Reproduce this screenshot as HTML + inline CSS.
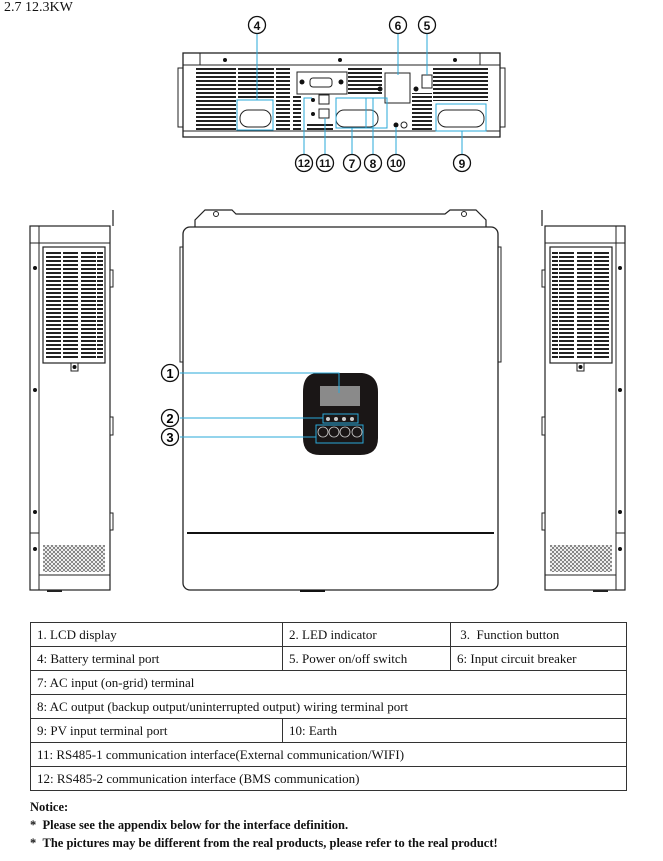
<!DOCTYPE html>
<html><head><meta charset="utf-8"><style>
html,body{margin:0;padding:0;background:#fff;}
body{width:663px;height:861px;position:relative;overflow:hidden;font-family:"Liberation Serif",serif;color:#111;}
svg{position:absolute;left:0;top:0;}
.t{position:absolute;font-size:13px;white-space:nowrap;}
table{position:absolute;left:30px;top:622px;width:597px;border-collapse:collapse;font-size:13px;}
td{border:1.3px solid #333;height:23px;padding:0 0 0 6px;}
.n{position:absolute;left:30px;font-size:12.5px;font-weight:bold;white-space:nowrap;}
</style></head><body>
<div class="t" style="left:4px;top:0px;font-size:14px;">2.7 12.3KW</div>
<svg width="663" height="620" viewBox="0 0 663 620" xmlns="http://www.w3.org/2000/svg">
<defs>
<pattern id="slat" width="10" height="4" patternUnits="userSpaceOnUse"><rect width="10" height="2" fill="#222"/></pattern>
<pattern id="hex" width="4" height="4" patternUnits="userSpaceOnUse"><circle cx="2" cy="2" r="1.4" fill="none" stroke="#333" stroke-width="0.6"/></pattern>
<g id="side">
<rect x="30" y="226" width="80" height="364" fill="#fff" stroke="#222" stroke-width="1.2"/>
<line x1="39" y1="226" x2="39" y2="590" stroke="#222"/>
<line x1="30" y1="243" x2="110" y2="243" stroke="#222"/>
<line x1="39" y1="575" x2="110" y2="575" stroke="#222"/>
<line x1="30" y1="533" x2="39" y2="533" stroke="#222"/>
<line x1="113" y1="210" x2="113" y2="226" stroke="#222" stroke-width="1.2"/>
<rect x="43" y="247" width="62" height="116" fill="#fff" stroke="#222" stroke-width="1.2"/>
<rect x="46" y="252" width="15" height="107" fill="url(#slat)"/>
<rect x="63" y="252" width="15" height="107" fill="url(#slat)"/>
<rect x="81" y="252" width="15" height="107" fill="url(#slat)"/>
<rect x="97" y="252" width="6" height="107" fill="url(#slat)"/>
<rect x="71" y="363" width="7" height="8" fill="#fff" stroke="#222"/>
<circle cx="74.5" cy="367" r="2" fill="#111"/>
<rect x="43" y="545" width="62" height="27" fill="url(#hex)"/>
<rect x="110" y="270" width="3" height="17" fill="#fff" stroke="#222"/>
<rect x="110" y="417" width="3" height="18" fill="#fff" stroke="#222"/>
<rect x="110" y="513" width="3" height="17" fill="#fff" stroke="#222"/>
<circle cx="35" cy="268" r="2" fill="#111"/><circle cx="35" cy="390" r="2" fill="#111"/>
<circle cx="35" cy="512" r="2" fill="#111"/><circle cx="35" cy="549" r="2" fill="#111"/>
<line x1="47" y1="591" x2="62" y2="591" stroke="#222" stroke-width="2"/>
</g>
</defs>
<!-- side views -->
<use href="#side"/>
<use href="#side" transform="translate(655,0) scale(-1,1)"/>

<!-- front view -->
<path d="M195 227 L195 220 L205 210 L232 210 L236 214 L445 214 L450 210 L476 210 L486 220 L486 227" fill="#fff" stroke="#222" stroke-width="1.2"/>
<circle cx="216" cy="214" r="2.5" fill="none" stroke="#222"/><circle cx="464" cy="214" r="2.5" fill="none" stroke="#222"/>
<rect x="180" y="247" width="3" height="115" fill="#fff" stroke="#222"/>
<rect x="498" y="247" width="3" height="115" fill="#fff" stroke="#222"/>
<rect x="183" y="227" width="315" height="363" rx="7" fill="#fff" stroke="#222" stroke-width="1.3"/>
<line x1="187" y1="533" x2="494" y2="533" stroke="#111" stroke-width="2"/>
<line x1="300" y1="591" x2="325" y2="591" stroke="#111" stroke-width="2"/>
<path d="M318 373 L362 373 Q378 375 378 392 L378 438 Q378 455 360 455 L320 455 Q303 455 303 438 L303 392 Q303 373 318 373 Z" fill="#1a1616"/>
<rect x="320" y="386" width="40" height="20" fill="#8a8a8a"/>
<g fill="#ccc"><circle cx="328" cy="419" r="2"/><circle cx="336" cy="419" r="2"/><circle cx="344" cy="419" r="2"/><circle cx="352" cy="419" r="2"/>
</g>
<g fill="none" stroke="#ccc" stroke-width="0.8"><circle cx="323" cy="432" r="5"/><circle cx="334" cy="432" r="5"/><circle cx="345" cy="432" r="5"/><circle cx="357" cy="432" r="5"/></g>
<g stroke="#2aa8d8" stroke-width="1" fill="none">
<polyline points="180,373 339,373 339,393"/>
<line x1="180" y1="418" x2="323" y2="418"/>
<line x1="180" y1="437" x2="316" y2="437"/>
<rect x="323" y="414" width="35" height="9"/>
<rect x="316" y="425" width="47" height="18"/>
</g>
<g font-family="Liberation Sans,sans-serif" font-size="13" font-weight="bold" text-anchor="middle">
<circle cx="170" cy="373" r="8.5" fill="#fff" stroke="#111" stroke-width="1.3"/><text x="170" y="378">1</text>
<circle cx="170" cy="418" r="8.5" fill="#fff" stroke="#111" stroke-width="1.3"/><text x="170" y="423">2</text>
<circle cx="170" cy="437" r="8.5" fill="#fff" stroke="#111" stroke-width="1.3"/><text x="170" y="442">3</text>
</g>

<!-- rear view -->
<rect x="178" y="68" width="5" height="59" fill="#fff" stroke="#222"/>
<rect x="500" y="68" width="5" height="59" fill="#fff" stroke="#222"/>
<rect x="183" y="53" width="317" height="84" fill="#fff" stroke="#222" stroke-width="1.3"/>
<line x1="183" y1="65" x2="500" y2="65" stroke="#222"/>
<line x1="200" y1="53" x2="200" y2="65" stroke="#222"/><line x1="480" y1="53" x2="480" y2="65" stroke="#222"/>
<line x1="183" y1="131" x2="500" y2="131" stroke="#222"/>
<circle cx="225" cy="60" r="2" fill="#111"/><circle cx="340" cy="60" r="2" fill="#111"/><circle cx="455" cy="60" r="2" fill="#111"/>
<rect x="196" y="68" width="40" height="63" fill="url(#slat)"/>
<rect x="238" y="68" width="36" height="30" fill="url(#slat)"/>
<rect x="276" y="68" width="14" height="63" fill="url(#slat)"/>
<rect x="293" y="96" width="8" height="34" fill="url(#slat)"/>
<rect x="348" y="68" width="34" height="26" fill="url(#slat)"/>
<rect x="433" y="68" width="55" height="33" fill="url(#slat)"/>
<rect x="412" y="93" width="20" height="38" fill="url(#slat)"/>
<rect x="307" y="123" width="26" height="8" fill="url(#slat)"/>
<rect x="297" y="72" width="50" height="22" fill="#fff" stroke="#222"/>
<rect x="310" y="78" width="22" height="9" rx="3" fill="#fff" stroke="#222"/>
<circle cx="302" cy="82" r="2.5" fill="#111"/><circle cx="341" cy="82" r="2.5" fill="#111"/>
<rect x="385" y="73" width="25" height="30" fill="#fff" stroke="#222"/>
<rect x="422" y="75" width="10" height="13" fill="#fff" stroke="#222"/>
<circle cx="380" cy="89" r="2.5" fill="#111"/><circle cx="416" cy="89" r="2.5" fill="#111"/>
<rect x="319" y="95" width="10" height="9" fill="#fff" stroke="#222"/>
<rect x="319" y="109" width="10" height="9" fill="#fff" stroke="#222"/>
<circle cx="313" cy="100" r="2" fill="#111"/><circle cx="313" cy="114" r="2" fill="#111"/>
<rect x="238" y="102" width="34" height="26" fill="#fff"/>
<rect x="240" y="110" width="31" height="17" rx="8" fill="#fff" stroke="#222"/>
<rect x="336" y="110" width="42" height="17" rx="8" fill="#fff" stroke="#222"/>
<rect x="438" y="110" width="46" height="17" rx="8" fill="#fff" stroke="#222"/>
<circle cx="396" cy="125" r="2.5" fill="#111"/><circle cx="404" cy="125" r="3" fill="none" stroke="#222"/>
<g stroke="#2aa8d8" stroke-width="1" fill="none">
<rect x="237" y="100" width="36" height="30"/>
<rect x="336" y="98" width="51" height="30"/>
<line x1="366" y1="98" x2="366" y2="128"/>
<rect x="436" y="104" width="50" height="27"/>
<line x1="257" y1="34" x2="257" y2="100"/>
<line x1="398" y1="34" x2="398" y2="75"/>
<line x1="427" y1="34" x2="427" y2="75"/>
<polyline points="304,154 304,98 312,98"/>
<line x1="325" y1="154" x2="325" y2="118"/>
<line x1="352" y1="154" x2="352" y2="128"/>
<line x1="373" y1="154" x2="373" y2="98"/>
<line x1="396" y1="154" x2="396" y2="127"/>
<line x1="462" y1="154" x2="462" y2="131"/>
</g>
<g font-family="Liberation Sans,sans-serif" font-size="12" font-weight="bold" text-anchor="middle" fill="#111">
<g fill="#fff" stroke="#111" stroke-width="1.3">
<circle cx="257" cy="25" r="8.5"/><circle cx="398" cy="25" r="8.5"/><circle cx="427" cy="25" r="8.5"/>
<circle cx="304" cy="163" r="8.5"/><circle cx="325" cy="163" r="8.5"/><circle cx="352" cy="163" r="8.5"/>
<circle cx="373" cy="163" r="8.5"/><circle cx="396" cy="163" r="8.5"/><circle cx="462" cy="163" r="8.5"/>
</g>
<text x="257" y="30">4</text><text x="398" y="30">6</text><text x="427" y="30">5</text>
<text x="304" y="167" font-size="11">12</text><text x="325" y="167" font-size="11">11</text><text x="352" y="168">7</text>
<text x="373" y="168">8</text><text x="396" y="167" font-size="11">10</text><text x="462" y="168">9</text>
</g>
</svg>
<table>
<tr><td style="width:245px">1. LCD display</td><td style="width:161px">2. LED indicator</td><td>&nbsp;3.&nbsp; Function button</td></tr>
<tr><td>4: Battery terminal port</td><td>5. Power on/off switch</td><td>6: Input circuit breaker</td></tr>
<tr><td colspan="3">7: AC input (on-grid) terminal</td></tr>
<tr><td colspan="3">8: AC output (backup output/uninterrupted output) wiring terminal port</td></tr>
<tr><td>9: PV input terminal port</td><td colspan="2" style="border-right:1.3px solid #333">10: Earth</td></tr>
<tr><td colspan="3">11: RS485-1 communication interface(External communication/WIFI)</td></tr>
<tr><td colspan="3">12: RS485-2 communication interface (BMS communication)</td></tr>
</table>
<div class="n" style="top:800px;">Notice:</div>
<div class="n" style="top:818px;">* &nbsp;Please see the appendix below for the interface definition.</div>
<div class="n" style="top:836px;">* &nbsp;The pictures may be different from the real products, please refer to the real product!</div>
</body></html>
